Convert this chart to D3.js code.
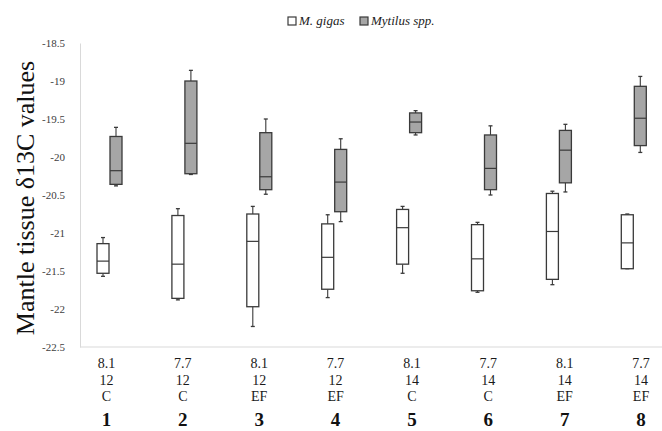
<!DOCTYPE html>
<html>
<head>
<meta charset="utf-8">
<script src="https://cdn.jsdelivr.net/npm/d3@7"></script>
<style>
  html, body { margin: 0; padding: 0; background: #fff; }
  svg { display: block; }
</style>
</head>
<body>
<svg id="chart" width="662" height="431"></svg>
<script>
// Treatments: pH, temperature (°C), food regime
const groups = [1, 2, 3, 4, 5, 6, 7, 8];
const phLabels = ["8.1", "7.7", "8.1", "7.7", "8.1", "7.7", "8.1", "7.7"];
const tempLabels = ["12", "12", "12", "12", "14", "14", "14", "14"];
const foodLabels = ["C", "C", "EF", "EF", "C", "C", "EF", "EF"];
const yTicks = [-18.5, -19, -19.5, -20, -20.5, -21, -21.5, -22, -22.5];

// Mantle tissue δ13C per group: [min, q1, median, q3, max]
const gigasStats = [
  [-21.57, -21.53, -21.37, -21.14, -21.06],
  [-21.88, -21.86, -21.41, -20.77, -20.68],
  [-22.23, -21.97, -21.11, -20.75, -20.65],
  [-21.85, -21.74, -21.32, -20.88, -20.76],
  [-21.53, -21.41, -20.93, -20.69, -20.65],
  [-21.78, -21.76, -21.34, -20.89, -20.86],
  [-21.68, -21.61, -20.98, -20.48, -20.45],
  [-21.47, -21.47, -21.13, -20.76, -20.75]
];
const mytilusStats = [
  [-20.38, -20.36, -20.18, -19.73, -19.61],
  [-20.23, -20.22, -19.82, -19.00, -18.86],
  [-20.49, -20.43, -20.26, -19.68, -19.50],
  [-20.85, -20.72, -20.33, -19.90, -19.76],
  [-19.71, -19.68, -19.54, -19.42, -19.39],
  [-20.50, -20.43, -20.15, -19.71, -19.59],
  [-20.46, -20.34, -19.91, -19.65, -19.57],
  [-19.94, -19.85, -19.49, -19.07, -18.94]
];

const series = [
  { name: "M. gigas", stats: gigasStats, fill: "#ffffff", offset: -6.5 },
  { name: "Mytilus spp.", stats: mytilusStats, fill: "#a6a6a6", offset: 6.5 }
];

const svg = d3.select("#chart");
const plot = { left: 80, right: 662, top: 43, bottom: 347 };
const boxW = 12;
const capW = 4;
const ink = "#3a3a3a";

const y = d3.scaleLinear().domain([-22.5, -18.5]).range([plot.bottom, plot.top]);
const x = d3.scalePoint().domain(groups).range([109.5, 633.8]);
const xLabel = d3.scalePoint().domain(groups).range([106.5, 641]);

// Y axis (no tick marks, light axis line)
const yAxis = d3.axisLeft(y).tickValues(yTicks).tickSize(0).tickPadding(15)
  .tickFormat(d => String(d));
const gy = svg.append("g").attr("transform", `translate(${plot.left},0)`).call(yAxis);
gy.select(".domain").attr("stroke", "#d9d9d9").attr("stroke-width", 1);
gy.selectAll("text")
  .attr("font-family", "'Liberation Serif', 'DejaVu Serif', serif")
  .attr("font-size", 11).attr("fill", "#404040");

// Baseline
svg.append("line")
  .attr("x1", plot.left).attr("x2", plot.right)
  .attr("y1", y(-22.5)).attr("y2", y(-22.5))
  .attr("stroke", "#d9d9d9").attr("stroke-width", 1.2);

// Y title
svg.append("text")
  .attr("transform", `translate(34,${(plot.top + plot.bottom) / 2 + 3}) rotate(-90)`)
  .attr("text-anchor", "middle")
  .attr("font-family", "'Liberation Serif', 'DejaVu Serif', serif")
  .attr("font-size", 26).attr("fill", "#111")
  .text("Mantle tissue δ13C values");

// Box plots
series.forEach(s => {
  const g = svg.append("g");
  const boxes = g.selectAll("g.box").data(s.stats.map((st, i) => ({ st, grp: groups[i] })))
    .join("g").attr("class", "box")
    .attr("transform", d => `translate(${x(d.grp) + s.offset},0)`);

  // whiskers
  boxes.append("line")
    .attr("x1", 0).attr("x2", 0)
    .attr("y1", d => y(d.st[4])).attr("y2", d => y(d.st[3]))
    .attr("stroke", ink).attr("stroke-width", 1.1);
  boxes.append("line")
    .attr("x1", 0).attr("x2", 0)
    .attr("y1", d => y(d.st[1])).attr("y2", d => y(d.st[0]))
    .attr("stroke", ink).attr("stroke-width", 1.1);
  // caps
  boxes.append("line")
    .attr("x1", -capW / 2).attr("x2", capW / 2)
    .attr("y1", d => y(d.st[4])).attr("y2", d => y(d.st[4]))
    .attr("stroke", ink).attr("stroke-width", 1.3);
  boxes.append("line")
    .attr("x1", -capW / 2).attr("x2", capW / 2)
    .attr("y1", d => y(d.st[0])).attr("y2", d => y(d.st[0]))
    .attr("stroke", ink).attr("stroke-width", 1.3);
  // box
  boxes.append("rect")
    .attr("x", -boxW / 2).attr("width", boxW)
    .attr("y", d => y(d.st[3])).attr("height", d => y(d.st[1]) - y(d.st[3]))
    .attr("fill", s.fill).attr("stroke", ink).attr("stroke-width", 1.3);
  // median
  boxes.append("line")
    .attr("x1", -boxW / 2).attr("x2", boxW / 2)
    .attr("y1", d => y(d.st[2])).attr("y2", d => y(d.st[2]))
    .attr("stroke", ink).attr("stroke-width", 1.2);
});

// Category labels under the axis
const catFont = "'Liberation Serif', 'DejaVu Serif', serif";
const labelRows = [
  { vals: phLabels, y: 368 },
  { vals: tempLabels, y: 384.5 },
  { vals: foodLabels, y: 401 }
];
labelRows.forEach(row => {
  svg.append("g").selectAll("text").data(groups).join("text")
    .attr("x", d => xLabel(d)).attr("y", row.y)
    .attr("text-anchor", "middle")
    .attr("font-family", catFont).attr("font-size", 14).attr("fill", "#1a1a1a")
    .text((d, i) => row.vals[i]);
});
svg.append("g").selectAll("text").data(groups).join("text")
  .attr("x", d => xLabel(d)).attr("y", 426)
  .attr("text-anchor", "middle")
  .attr("font-family", catFont).attr("font-size", 19).attr("font-weight", "bold")
  .attr("fill", "#111")
  .text(d => d);

// Legend
const legend = svg.append("g").attr("transform", "translate(288,17)");
series.forEach((s, i) => {
  const item = legend.append("g").attr("transform", `translate(${i === 0 ? 0 : 72},0)`);
  item.append("rect").attr("x", 0).attr("y", 0).attr("width", 8).attr("height", 8)
    .attr("fill", s.fill).attr("stroke", ink).attr("stroke-width", 1.2);
  item.append("text").attr("x", 11).attr("y", 8)
    .attr("font-family", catFont).attr("font-style", "italic")
    .attr("font-size", 13).attr("fill", "#222")
    .text(s.name);
});
</script>
</body>
</html>
